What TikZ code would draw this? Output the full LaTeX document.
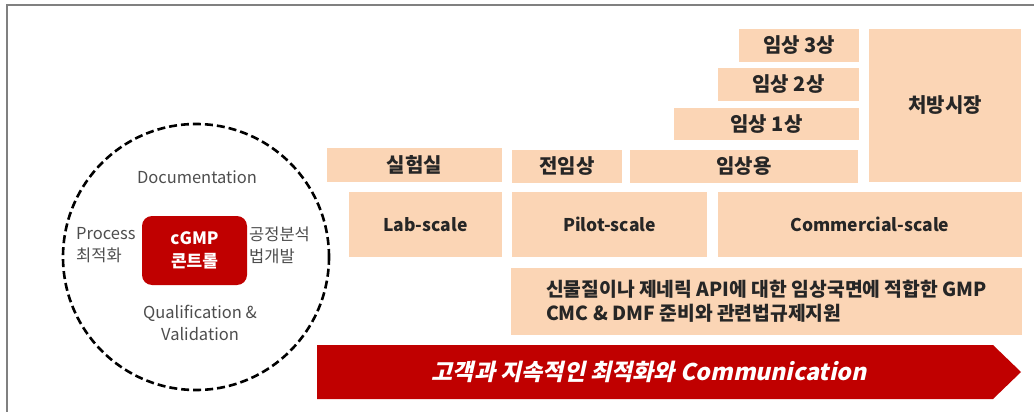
\documentclass[tikz,border=0pt]{standalone}
\usepackage{fontspec}
\setmainfont{Noto Sans CJK KR}
\newfontfamily\slantkr{Noto Sans CJK KR}[FakeSlant=0.22]
\definecolor{peach}{HTML}{FBD5B5}
\definecolor{cgmpred}{HTML}{C00000}
\definecolor{txtgray}{HTML}{4D4D4D}
\definecolor{txtdark}{HTML}{262626}
\begin{document}
\begin{tikzpicture}[x=1pt, y=-1pt,
                bx/.style={fill=peach, inner sep=0pt, font=\fontsize{20}{24}\selectfont\bfseries, text=txtdark},
                bxl/.style={bx, font=\fontsize{17.5}{22}\selectfont\bfseries},
                ctxt/.style={font=\fontsize{16.5}{22}\selectfont, text=txtgray, inner sep=0pt}
            ]
            \useasboundingbox (0,0) rectangle (1034,412);
            \draw[gray, line width=1.2pt] (7,412) -- (7,5) -- (1034,5);
            % left circle
            \node[draw, dashed, circle, line width=2.6pt, dash pattern=on 8pt off 4pt, minimum size=266pt] (ring) at (196,257) {};
            \node[fill=cgmpred, rounded corners=10pt, minimum width=105pt, minimum height=69pt, text=white, align=center,
                  font=\fontsize{17}{23}\selectfont\bfseries] (cgmp) at (194.5,250.5) {cGMP\\콘트롤};
            \node[ctxt] (doc)  at (197,177) {Documentation};
            \node[ctxt, anchor=west, align=left] (proc) at (76,245) {Process\\최적화};
            \node[ctxt, anchor=west, align=left] (anal) at (249,245) {공정분석\\법개발};
            \node[ctxt, align=center] (qual) at (200,323) {Qualification \&\\Validation};
            % stage boxes
            \node[bx, minimum width=175pt, minimum height=34pt] (lab)  at (414.5,165)   {실험실};
            \node[bx, minimum width=110pt, minimum height=33pt] (pre)  at (567,166.5)   {전임상};
            \node[bx, minimum width=228pt, minimum height=33pt] (clin) at (744,166.5)   {임상용};
            \node[bx, minimum width=185pt, minimum height=32pt] (ph1)  at (766.5,124)   {임상 1상};
            \node[bx, minimum width=141pt, minimum height=33pt] (ph2)  at (788.5,84.5)  {임상 2상};
            \node[bx, minimum width=120pt, minimum height=33pt] (ph3)  at (799,45.5)    {임상 3상};
            \node[bx, minimum width=152pt, minimum height=153pt] (mkt) at (945,105.5)   {처방시장};
            % scale boxes
            \node[bxl, minimum width=153pt, minimum height=65pt] (labs)  at (425.5,224.5) {Lab-scale};
            \node[bxl, minimum width=195pt, minimum height=65pt] (pils)  at (609.5,224.5) {Pilot-scale};
            \node[bxl, minimum width=304pt, minimum height=65pt] (coms)  at (870,224.5)   {Commercial-scale};
            \node[bx, minimum width=511pt, minimum height=67pt, align=left, font=\fontsize{19.3}{24}\selectfont\bfseries] (gmp) at (766.5,301.5)
                {신물질이나 제네릭 API에 대한 임상국면에 적합한 GMP\\CMC \& DMF 준비와 관련법규제지원};
            % bottom arrow
            \fill[cgmpred] (317,345) -- (993,345) -- (1021,372) -- (993,399) -- (317,399) -- cycle;
            \node[text=white, font=\fontsize{23}{26}\slantkr\bfseries] (comm) at (649,372) {고객과 지속적인 최적화와 Communication};
            \end{tikzpicture}
\end{document}
